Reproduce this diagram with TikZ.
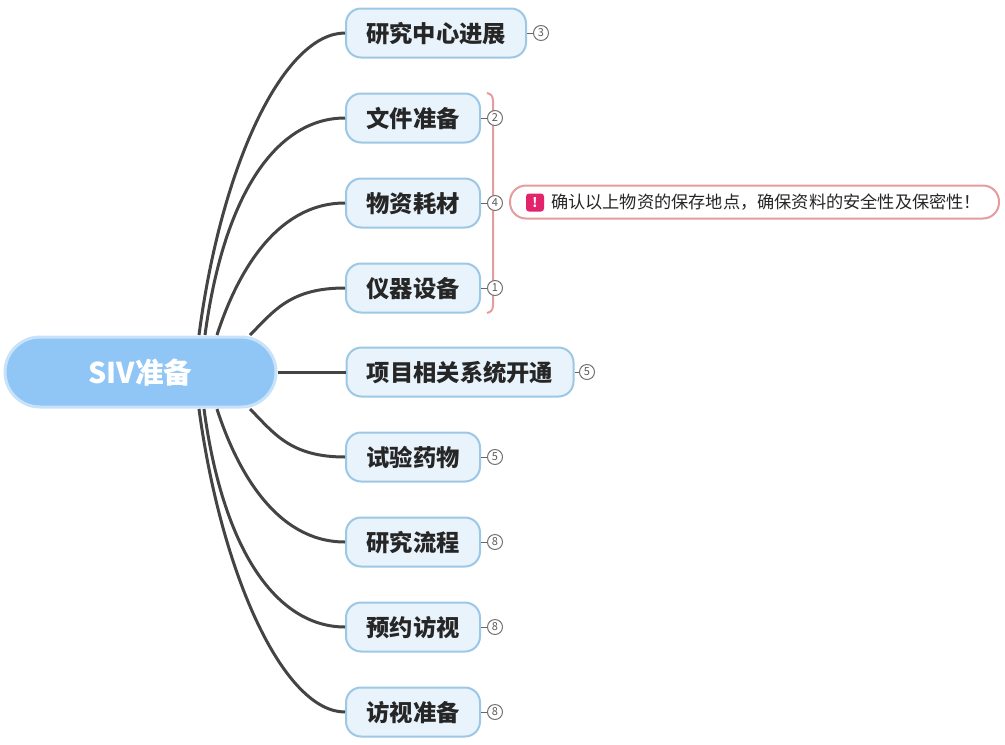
\documentclass[tikz,border=0pt]{standalone}
\usepackage{fontspec}
\setmainfont{Noto Sans CJK SC}
\definecolor{rootfill}{HTML}{90C6F5}
\definecolor{rootline}{HTML}{C8E2FA}
\definecolor{topicfill}{HTML}{E8F3FC}
\definecolor{topicline}{HTML}{9CC7E5}
\definecolor{branchline}{HTML}{444444}
\definecolor{noteline}{HTML}{E59C9C}
\definecolor{warnfill}{HTML}{E3246C}
\begin{document}
\begin{tikzpicture}[x=1pt,y=-1pt,node distance=85pt]
\tikzstyle{root}=[shape=rectangle,draw=rootline,fill=rootfill,line width=3pt,rounded corners=35pt,minimum width=271pt,minimum height=70pt,text height=27.8pt,text depth=4pt,text=white,font=\fontsize{28.6}{30}\selectfont\bfseries]
\tikzstyle{topic}=[shape=rectangle,draw=topicline,fill=topicfill,line width=2pt,rounded corners=15pt,minimum height=49pt,text height=22.9pt,text depth=3.2pt,inner xsep=0pt,inner ysep=0pt,text=black!85,font=\fontsize{23.3}{25}\selectfont\bfseries]
\tikzstyle{count}=[shape=circle,draw=black!55,fill=white,line width=1pt,minimum size=15pt,inner sep=0pt,text=black!65,font=\fontsize{11}{12}\selectfont]
\tikzstyle{branch}=[draw=branchline,line width=3pt]
\tikzstyle{stub}=[draw=black!60,line width=1pt]
\tikzstyle{bracket}=[draw=noteline,line width=2pt]
\tikzstyle{note}=[shape=rectangle,draw=noteline,fill=white,line width=2pt,rounded corners=16pt,minimum height=33pt,inner xsep=18pt,text=black!85,font=\fontsize{17.2}{19}\selectfont]
\tikzstyle{warn}=[shape=rectangle,fill=warnfill,rounded corners=3pt,minimum size=18pt,inner sep=0pt,text=white,font=\fontsize{13}{14}\selectfont\bfseries]
\useasboundingbox (0,0) rectangle (1005,745);

\node[root] (r) at (140.5,372) {SIV准备};
\node[topic, minimum width=180pt] (a) at (436,33) {研究中心进展};
\node[topic, minimum width=134pt] (b) at (413,118) {文件准备};
\node[topic, minimum width=134pt, below of = b] (c) {物资耗材};
\node[topic, minimum width=134pt, below of = c] (d) {仪器设备};
\node[topic, minimum width=227pt] (e) at (460,372) {项目相关系统开通};
\node[topic, minimum width=134pt] (f) at (413,457) {试验药物};
\node[topic, minimum width=134pt, below of = f] (g) {研究流程};
\node[topic, minimum width=134pt, below of = g] (h) {预约访视};
\node[topic, minimum width=134pt, below of = h] (i) {访视准备};

\coordinate (ra) at (199,335);
\coordinate (rb) at (205,335);
\coordinate (rc) at (217,335);
\coordinate (rd) at (250,335);
\coordinate (rf) at (250,409);
\coordinate (rg) at (217,409);
\coordinate (rh) at (204,409);
\coordinate (ri) at (199,409);

\path[branch] (ra) .. controls +(23,-175) and +(-60,0) .. (a.west);
\path[branch] (rb) .. controls +(20,-148) and +(-65,0) .. (b.west);
\path[branch] (rc) .. controls +(19,-59) and +(-70,0) .. (c.west);
\path[branch] (rd) .. controls +(24,-24) and +(-55,0) .. (d.west);
\path[branch] (r.east) -- (e.west);
\path[branch] (rf) .. controls +(24,24) and +(-55,0) .. (f.west);
\path[branch] (rg) .. controls +(19,59) and +(-70,0) .. (g.west);
\path[branch] (rh) .. controls +(20,148) and +(-65,0) .. (h.west);
\path[branch] (ri) .. controls +(23,170) and +(-60,0) .. (i.west);

\path[bracket] (487,93) .. controls (491,94) and (493,96) .. (493,101) -- (493,305) .. controls (493,310) and (491,312) .. (487,313);

\node[count] (na) at (541,33) {3};
\node[count] (nb) at (495,118) {2};
\node[count, below of = nb] (nc) {4};
\node[count, below of = nc] (nd) {1};
\node[count] (ne) at (587,372) {5};
\node[count] (nf) at (495,457) {5};
\node[count, below of = nf] (ng) {8};
\node[count, below of = ng] (nh) {8};
\node[count, below of = nh] (ni) {8};

\path[stub] (a) edge (na);
\path[stub] (b) edge (nb);
\path[stub] (c) edge (nc);
\path[stub] (d) edge (nd);
\path[stub] (e) edge (ne);
\path[stub] (f) edge (nf);
\path[stub] (g) edge (ng);
\path[stub] (h) edge (nh);
\path[stub] (i) edge (ni);

\node[note, anchor=west] (m) at (509,202) {\hspace{23pt}确认以上物资的保存地点，确保资料的安全性及保密性！};
\node[warn] (w) at (535,202.5) {!};
\end{tikzpicture}
\end{document}
